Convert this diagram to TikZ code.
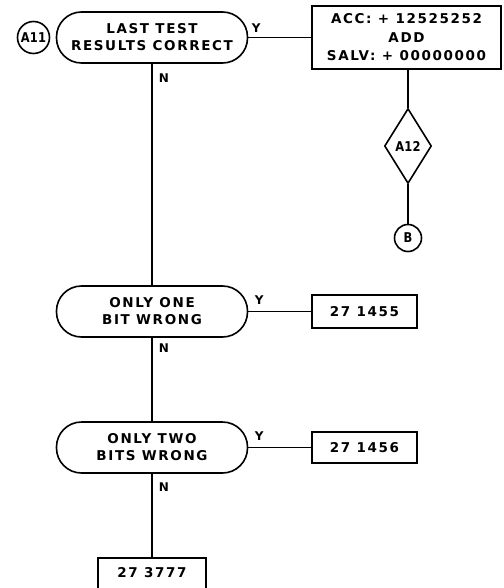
\documentclass[tikz,border=0pt]{standalone}
\usepackage{fontspec}
\newfontfamily\lfont[LetterSpace=12]{DejaVu Sans}
\newfontfamily\cfont[LetterSpace=2,FakeStretch=0.85]{DejaVu Sans}
\usetikzlibrary{shapes.geometric}
\begin{document}
\begin{tikzpicture}[x=1pt,y=-1pt,line width=1.6pt,
  txt/.style={font=\lfont\bfseries\fontsize{13.5}{17}\selectfont},
  term/.style={txt,draw,rounded corners=25pt,minimum width=191pt,minimum height=51pt,align=center,inner sep=0pt},
  conn/.style={draw,circle,inner sep=0pt,font=\cfont\bfseries\fontsize{13.5}{14}\selectfont},
  box/.style={txt,draw,rectangle,align=center,inner sep=0pt},
  lbl/.style={inner sep=0pt,font=\lfont\bfseries\fontsize{12}{13}\selectfont},
  wire/.style={line width=1.5pt}]
\useasboundingbox (0,0) rectangle (503,588);
% nodes
\node[conn,minimum size=32pt] (a11) at (33.5,37.5) {A11};
\node[term] (t1) at (152,37.5) {LAST TEST\\RESULTS CORRECT};
\node[box,minimum width=189pt,minimum height=63pt,font=\lfont\bfseries\fontsize{13.5}{18.5}\selectfont] (b1) at (406.5,37.5) {ACC: + 12525252\\ADD\\SALV: + 00000000};
\node[conn,diamond,minimum width=47pt,minimum height=75pt] (a12) at (408,146) {A12};
\node[conn,minimum size=27pt] (bb) at (408,238) {B};
\node[term] (t2) at (152,311.5) {ONLY ONE\\BIT WRONG};
\node[box,minimum width=105pt,minimum height=33pt] (b2) at (364.5,311.5) {27 1455};
\node[term] (t3) at (152,447.5) {ONLY TWO\\BITS WRONG};
\node[box,minimum width=105pt,minimum height=31pt] (b3) at (364.5,447.5) {27 1456};
\node[box,minimum width=108pt,text height=19pt,text depth=25pt] (b4) at (152,580) {27 3777};
% labels
\node[lbl,anchor=west] (y1) at (251,28) {Y};
\node[lbl,anchor=west] (y2) at (254,300) {Y};
\node[lbl,anchor=west] (y3) at (254,436) {Y};
\node[lbl,anchor=west] (n1) at (158,78) {N};
\node[lbl,anchor=west] (n2) at (158,348) {N};
\node[lbl,anchor=west] (n3) at (158,487) {N};
% connectors
\draw[wire] (t1.east) -- (b1.west);
\draw[wire] (a12.north) -- (a12.north |- b1.south);
\draw[wire] (a12.south) -- (bb.north);
\draw[wire] (t1.south) -- (t2.north);
\draw[wire] (t2.east) -- (b2.west);
\draw[wire] (t2.south) -- (t3.north);
\draw[wire] (t3.east) -- (b3.west);
\draw[wire] (t3.south) -- (b4.north);
\end{tikzpicture}
\end{document}
